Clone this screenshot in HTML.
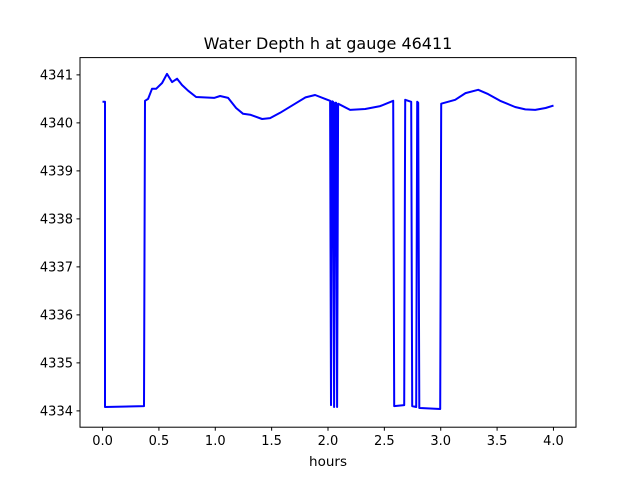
<!DOCTYPE html>
<html><head><meta charset="utf-8"><style>
body{margin:0;background:#fff;}
svg{display:block;font-family:"DejaVu Sans","Liberation Sans",sans-serif;}
</style></head><body>
<svg id="chart" width="640" height="480"></svg>
<script>
const times=[0.0,0.022,0.022,0.368,0.377,0.404,0.439,0.475,0.528,0.572,0.617,0.661,0.705,0.759,0.83,0.99,1.043,1.114,1.185,1.247,1.31,1.415,1.486,1.575,1.708,1.8,1.886,1.975,2.019,2.027,2.036,2.045,2.054,2.063,2.072,2.081,2.09,2.196,2.33,2.463,2.578,2.587,2.676,2.685,2.738,2.747,2.782,2.791,2.80,2.81,2.817,2.995,3.004,3.128,3.22,3.332,3.42,3.527,3.66,3.75,3.838,3.93,4.0];
const depths=[4340.44,4340.44,4334.08,4334.1,4340.46,4340.5,4340.71,4340.71,4340.83,4341.02,4340.85,4340.92,4340.79,4340.67,4340.54,4340.52,4340.56,4340.52,4340.31,4340.19,4340.17,4340.08,4340.1,4340.21,4340.4,4340.53,4340.58,4340.5,4340.46,4334.12,4340.45,4340.44,4334.08,4340.42,4340.42,4334.08,4340.4,4340.27,4340.29,4340.35,4340.46,4334.1,4334.12,4340.48,4340.44,4334.1,4334.08,4340.44,4340.42,4334.06,4334.06,4334.04,4340.4,4340.48,4340.62,4340.69,4340.6,4340.46,4340.33,4340.28,4340.27,4340.31,4340.36];
const xTicks=[0,0.5,1,1.5,2,2.5,3,3.5,4];
const xTickLabels=["0.0","0.5","1.0","1.5","2.0","2.5","3.0","3.5","4.0"];
const yTicks=[4334,4335,4336,4337,4338,4339,4340,4341];
const yTickLabels=["4334","4335","4336","4337","4338","4339","4340","4341"];

const L=80,R=576,T=57.6,B=427.2;
const xMin=-0.2,xMax=4.2,yMin=4333.66,yMax=4341.36;
const sx=v=>L+(v-xMin)/(xMax-xMin)*(R-L);
const sy=v=>B-(v-yMin)/(yMax-yMin)*(B-T);
const svg=document.getElementById('chart');
const NS='http://www.w3.org/2000/svg';
function mk(tag,attrs,parent){const e=document.createElementNS(NS,tag);for(const k in attrs)e.setAttribute(k,attrs[k]);(parent||svg).appendChild(e);return e;}

const title=mk('text',{x:328,y:49,'text-anchor':'middle','font-size':'16'});
title.textContent='Water Depth h at gauge 46411';



const xl=mk('text',{x:328,y:466,'text-anchor':'middle','font-size':'13.5'});
xl.textContent='hours';



const pts=times.map((t,i)=>sx(t).toFixed(1)+','+sy(depths[i]).toFixed(1)).join(' ');
const line=mk('polyline',{points:pts,fill:'none',stroke:'#0000ff','stroke-width':2,'stroke-linejoin':'round'});



const frame=mk('rect',{x:L,y:T,width:R-L,height:B-T,fill:'none',stroke:'#000','stroke-width':1});



xTicks.forEach((v,i)=>{
  const x=sx(v);
  const tk=mk('line',{x1:x,y1:B,x2:x,y2:B+3.5,stroke:'#000'});
  
  
  const lb=mk('text',{x:x,y:B+18,'text-anchor':'middle','font-size':'13'});
  lb.textContent=xTickLabels[i];
  
  
});
yTicks.forEach((v,i)=>{
  const y=sy(v);
  const tk=mk('line',{x1:L-3.5,y1:y,x2:L,y2:y,stroke:'#000'});
  
  
  const lb=mk('text',{x:L-7,y:y+4.5,'text-anchor':'end','font-size':'13'});
  lb.textContent=yTickLabels[i];
  
  
});
</script>
</body></html>
